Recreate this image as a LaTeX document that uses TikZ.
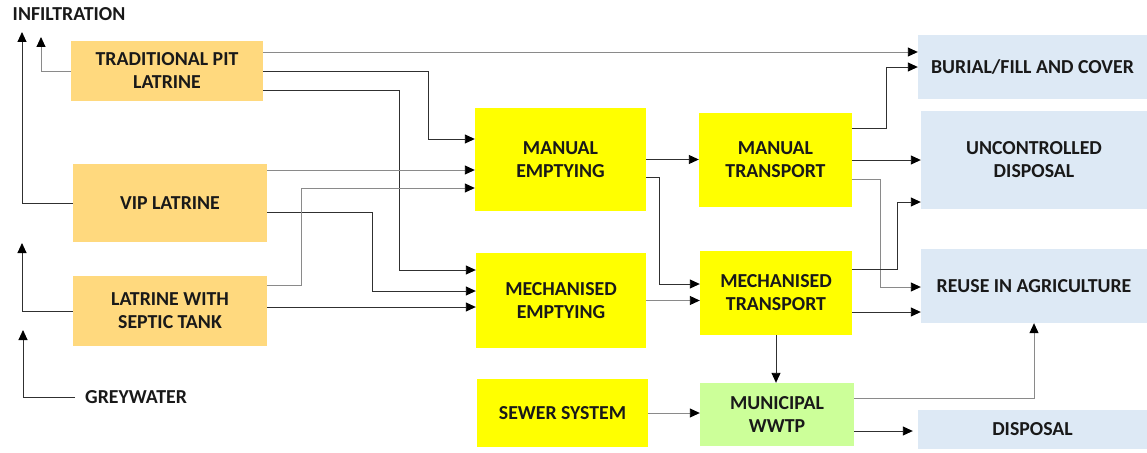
\documentclass[tikz,border=0pt]{standalone}
\usepackage{fontspec}
\setmainfont{Carlito}
\usetikzlibrary{arrows.meta}
\definecolor{orangebox}{HTML}{FFD97E}
\definecolor{yellowbox}{HTML}{FFFF00}
\definecolor{greenbox}{HTML}{CCFF99}
\definecolor{bluebox}{HTML}{DDE9F5}
\definecolor{linedark}{HTML}{303030}
\definecolor{linegrey}{HTML}{8A8A8A}
\begin{document}
\begin{tikzpicture}[x=1pt,y=-1pt,
  every node/.style={font=\fontsize{19.8}{23}\selectfont\bfseries, text=black!90},
  box/.style={draw=none, inner sep=0pt, align=center},
  obox/.style={box, fill=orangebox},
  ybox/.style={box, fill=yellowbox},
  gbox/.style={box, fill=greenbox},
  bbox/.style={box, fill=bluebox},
  arr/.style={draw=linedark, line width=0.9pt, -{Triangle[length=10pt,width=9pt,color=black]}},
  garr/.style={arr, draw=linegrey},
  lbl/.style={inner sep=0pt}
]
\useasboundingbox (0,0) rectangle (1147,452);

% source boxes
\node[obox, minimum width=192pt, minimum height=60pt] (tpl) at (167,71) {TRADITIONAL PIT\\LATRINE};
\node[obox, minimum width=194pt, minimum height=78pt] (vip) at (170,203) {VIP LATRINE};
\node[obox, minimum width=194pt, minimum height=70pt] (sep) at (170,311) {LATRINE WITH\\SEPTIC TANK};

% emptying / transport
\node[ybox, minimum width=171pt, minimum height=103pt] (me) at (560.5,159.5) {MANUAL\\EMPTYING};
\node[ybox, minimum width=153pt, minimum height=94pt] (mt) at (775.5,160) {MANUAL\\TRANSPORT};
\node[ybox, minimum width=170pt, minimum height=95pt] (mche) at (561,300.5) {MECHANISED\\EMPTYING};
\node[ybox, minimum width=152pt, minimum height=84pt] (mcht) at (776,293) {MECHANISED\\TRANSPORT};
\node[ybox, minimum width=171pt, minimum height=68pt] (sew) at (562.5,413) {SEWER SYSTEM};
\node[gbox, minimum width=154pt, minimum height=63pt] (wwtp) at (777,414.5) {MUNICIPAL\\WWTP};

% destinations
\node[bbox, minimum width=229pt, minimum height=64pt] (bur) at (1032.5,67) {BURIAL/FILL AND COVER};
\node[bbox, minimum width=226pt, minimum height=98pt] (unc) at (1034,160) {UNCONTROLLED\\DISPOSAL};
\node[bbox, minimum width=226pt, minimum height=74pt] (reu) at (1034,286) {REUSE IN AGRICULTURE};
\node[bbox, minimum width=229pt, minimum height=39pt] (dis) at (1032.5,429.5) {DISPOSAL};

% labels
\node[lbl] (inf) at (69,14) {INFILTRATION};
\node[lbl, anchor=west] (gw) at (85,397) {GREYWATER};

\coordinate (inf1) at (22,32);
\coordinate (inf2) at (41,37);
\coordinate (inf3) at (22,243);
\coordinate (gwup) at (23,330);

% infiltration arrows
\draw[arr] (vip.west) -| (inf1);
\draw[garr] (tpl.west) -| (inf2);
\draw[arr] (sep.west) -| (inf3);
\draw[arr] ([xshift=-10pt]gw.west) -| (gwup);

% traditional pit latrine
\draw[garr] ([yshift=19pt]tpl.east) -- ([yshift=19pt]tpl.east -| bur.west);
\draw[arr] (tpl.east) -- ++(165,0) |- ([yshift=20.5pt]me.west);
\draw[arr] ([yshift=-19pt]tpl.east) -- ++(136,0) |- ([yshift=30.5pt]mche.west);

% VIP latrine
\draw[garr] ([yshift=33pt]vip.east) -- ([yshift=33pt]vip.east -| me.west);
\draw[arr] ([yshift=-9pt]vip.east) -- ++(105,0) |- ([yshift=9.5pt]mche.west);

% septic tank
\draw[garr] ([yshift=26pt]sep.east) -- ++(34,0) |- ([yshift=-28.5pt]me.west);
\draw[arr] ([yshift=4pt]sep.east) -- ([yshift=4pt]sep.east -| mche.west);

% emptying to transport
\draw[arr] (me.east) -- (me.east -| mt.west);
\draw[arr] ([yshift=-17.5pt]me.east) -- ++(13,0) |- ([yshift=9pt]mcht.west);
\draw[garr] (mche.east) -- (mche.east -| mcht.west);

% manual transport
\draw[arr] ([yshift=32pt]mt.east) -- ++(34,0) |- (bur.west);
\draw[arr] (mt.east) -- (mt.east -| unc.west);
\draw[garr] ([yshift=-19pt]mt.east) -- ++(28,0) |- ([yshift=-1pt]reu.west);

% mechanised transport
\draw[arr] ([yshift=24pt]mcht.east) -- ++(45,0) |- ([yshift=-42pt]unc.west);
\draw[arr] ([yshift=-19pt]mcht.east) -- ([yshift=-19pt]mcht.east -| reu.west);
\draw[arr] (mcht.south) -- (mcht.south |- wwtp.north);

% sewer and WWTP
\draw[garr] (sew.east) -- (sew.east -| wwtp.west);
\draw[garr] ([yshift=16.5pt]wwtp.east) -| (reu.south);
\draw[arr, shorten >=5pt] ([yshift=-16.5pt]wwtp.east) -- ([yshift=-16.5pt]wwtp.east -| dis.west);
\end{tikzpicture}
\end{document}
